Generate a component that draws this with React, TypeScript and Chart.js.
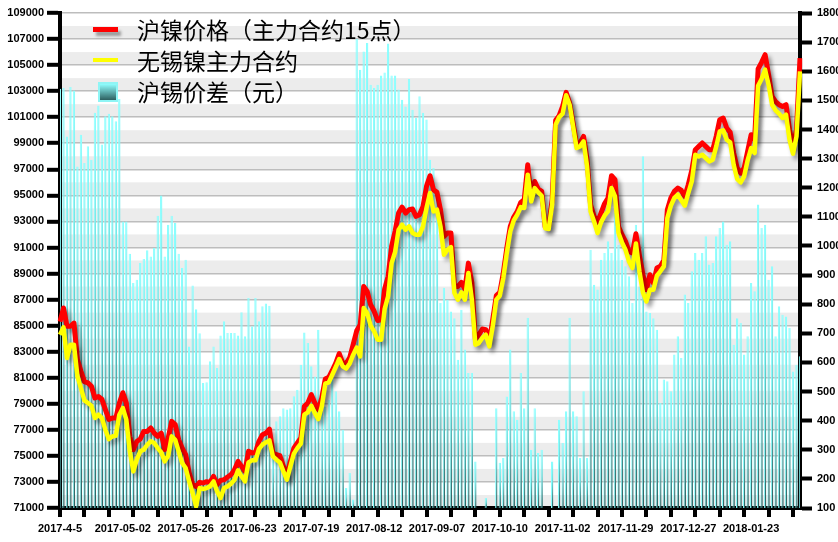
import React, { useEffect, useRef } from 'react';
import { Chart, registerables } from 'chart.js';

Chart.register(...registerables);

// ---- data ----
const tickLabels = [
  '2017-4-5', '2017-05-02', '2017-05-26', '2017-06-23', '2017-07-19', '2017-08-12',
  '2017-09-07', '2017-10-10', '2017-11-02', '2017-11-29', '2017-12-27', '2018-01-23',
];
const LABEL_EVERY = 18;
const MARK_EVERY = 7;

// 沪镍价格（主力合约15点）
const shfeNickel = [
  85300, 86350, 84950, 84950, 85200, 82400, 81500, 80700, 80600, 80350,
  79450, 79550, 79350, 78550, 77800, 77900, 77900, 79050, 79850, 79050,
  76500, 75480, 76100, 76300, 76880, 76880, 77140, 76750, 76500, 76750,
  75480, 76370, 77650, 77400, 76250, 75600, 75100, 73700, 72800, 72650,
  72970, 72920, 73020, 72970, 73430, 72790, 73120, 73170, 73380, 73560,
  73940, 74580, 74200, 73810, 75350, 75220, 75270, 76120, 76630, 76750,
  77060, 75220, 75090, 75010, 74200, 73430, 74580, 75600, 75990, 76370,
  78800, 79060, 79700, 79060, 78550, 79440, 80900, 81030, 81560, 82130,
  82850, 82130, 82100, 82550, 83560, 84600, 85070, 88010, 87630, 86600,
  86100, 85400, 85450, 87800, 88780, 91080, 92240, 93640, 94100, 93640,
  93900, 93950, 93390, 93520, 94150, 95690, 96510, 95430, 95230, 93900,
  91850, 92110, 92110, 88010, 88010, 88320, 87810, 89800, 88270, 83970,
  84300, 84740, 84690, 83790, 85500, 87300, 87550, 89040, 90960, 92620,
  93340, 93770, 94460, 94670, 97350, 94800, 96070, 95490, 95310, 92570,
  92620, 94670, 100760, 101120, 101830, 102910, 102090, 100550, 98890, 99020,
  99530, 97740, 94280, 93390, 92930, 93640, 94360, 94800, 96510, 96200,
  92620, 91980, 91470, 90700, 90570, 92050, 90400, 88910, 87760, 88910,
  88270, 89420, 89550, 90010, 93900, 94800, 95310, 95560, 95380, 94920,
  95820, 96920, 98500, 98760, 99020, 98760, 98500, 98500, 99530, 100810,
  100940, 100170, 99840, 98250, 97100, 96710, 97100, 98380, 99660, 99270,
  104700, 105210, 105800, 104260, 102600, 102190, 101960, 101830, 101960, 100040,
  98760, 100040, 105540,
];

// 无锡镍主力合约
const wuxiNickel = [
  84300, 84870, 82510, 83540, 83540, 81100, 80210, 79260, 79060, 78850,
  77910, 78160, 77910, 77010, 76290, 76500, 76550, 78160, 78670, 77780,
  75350, 73810, 74710, 75350, 75480, 75860, 76120, 75990, 75600, 75270,
  74580, 75010, 76500, 76240, 75350, 74450, 74070, 73040, 72150, 71130,
  72530, 72460, 72530, 72660, 73040, 72280, 71760, 72530, 72660, 72870,
  73170, 73890, 73430, 73040, 74500, 74660, 74660, 75530, 75860, 76040,
  76190, 74960, 74710, 74500, 73810, 73170, 74200, 75170, 75600, 75940,
  78160, 78340, 78850, 78290, 77830, 78800, 80540, 80640, 81230, 81820,
  82440, 81870, 81700, 82100, 82770, 83320, 82640, 86350, 85970, 84990,
  84560, 83920, 83920, 86270, 87250, 89800, 90650, 92360, 92750, 92360,
  92620, 92110, 91980, 91980, 92620, 94030, 95180, 93770, 93900, 92620,
  90450, 90830, 91030, 87500, 86990, 87550, 86990, 89040, 86990, 83540,
  83660, 84050, 84300, 83410, 85000, 86990, 87300, 88650, 90570, 92240,
  93080, 93520, 94100, 94030, 96590, 94540, 95560, 95230, 94970, 92470,
  92420, 94300, 100430, 101010, 101270, 102680, 101960, 100300, 98630, 98760,
  99150, 97230, 93770, 93000, 92110, 92930, 93440, 93770, 95560, 94920,
  92110, 91390, 90830, 89930, 89420, 91300, 89170, 87550, 86860, 87760,
  87760, 88830, 89170, 89550, 93260, 94210, 94800, 95050, 94620, 94210,
  95180, 96070, 98120, 97990, 98120, 97870, 97610, 97740, 98760, 99910,
  99990, 99270, 99070, 97350, 96250, 96000, 96460, 97690, 98630, 98250,
  103420, 103930, 104650, 103500, 101960, 101530, 101270, 100940, 101190, 99270,
  98200, 99530, 104520,
];

// 沪锡价差（元）
const spread = [
  1540, 1542, 1376, 1546, 1534, 1273, 1382, 1285, 1342, 1296,
  1457, 1482, 1348, 1445, 1454, 1445, 1428, 1505, 1084, 1084,
  973, 873, 884, 941, 955, 985, 964, 993, 1104, 1173,
  964, 1073, 1104, 1079, 973, 924, 953, 655, 864, 783,
  700, 529, 532, 604, 655, 581, 692, 741, 701, 701,
  701, 692, 772, 690, 821, 724, 821, 741, 793, 802,
  795, 323, 398, 415, 443, 438, 443, 484, 506, 592,
  703, 667, 587, 552, 712, 466, 449, 472, 569, 501,
  432, 369, 169, 220, 129, 1711, 1605, 1668, 1697, 1554,
  1542, 1554, 1585, 1596, 1695, 1585, 1585, 1537, 1502, 1479,
  1573, 1468, 1439, 1514, 1457, 1434, 1296, 1268, 1159, 804,
  856, 815, 775, 752, 609, 781, 644, 564, 564, 260,
  null, null, 134, null, null, 443, 255, 272, 483, 644,
  432, 403, 564, 443, 753, 300, 443, 289, 300, null,
  null, 260, null, 403, 323, 432, 753, 432, 415, 272,
  501, 272, 987, 867, 850, 953, 976, 1016, 976, 1113,
  1004, 953, 930, 896, 804, 1073, 861, 1308, 775, 770,
  752, 712, 461, 541, 535, 501, 627, 690, 615, 833,
  804, 913, 976, 953, 976, 1033, 936, 941, 1033, 1062,
  1084, 1004, 1016, 661, 752, 735, 627, 690, 873, 844,
  1142, 1062, 1073, 884, 930, 690, 793, 764, 758, 718,
  569, 592, 621,
];

const leftMin = 71000;
const leftMax = 109000;
const rightMin = 100;
const rightMax = 1800;

const categories = shfeNickel.map((_, i) =>
  i % LABEL_EVERY === 0 && tickLabels[i / LABEL_EVERY] ? tickLabels[i / LABEL_EVERY] : ''
);

const seriesNames = ['沪镍价格（主力合约15点）', '无锡镍主力合约', '沪锡价差（元）'];

const tickFont = { family: '"Liberation Sans", Arial, sans-serif', size: 11, weight: 'bold' as const };

const bandPlugin = {
  id: 'bands',
  beforeDraw(chart: any) {
    const { ctx, chartArea: a, scales } = chart;
    const y = scales.y;
    ctx.save();
    ctx.fillStyle = '#ececec';
    for (let v = leftMin; v < leftMax; v += 1000) {
      const idx = (v - leftMin) / 1000;
      if (idx % 2 === 0) {
        const top = y.getPixelForValue(v + 1000);
        const bot = y.getPixelForValue(v);
        ctx.fillRect(a.left, top, a.right - a.left, bot - top);
      }
    }
    ctx.restore();
  },
};

const shadowPlugin = {
  id: 'lineShadow',
  beforeDatasetDraw(chart: any, args: any) {
    if (args.meta.type !== 'line') return;
    const ctx = chart.ctx;
    ctx.save();
    ctx.shadowColor = 'rgba(0,0,0,0.38)';
    ctx.shadowBlur = 4;
    ctx.shadowOffsetX = 3;
    ctx.shadowOffsetY = 4;
  },
  afterDatasetDraw(chart: any, args: any) {
    if (args.meta.type !== 'line') return;
    chart.ctx.restore();
  },
};

function barFill(context: any) {
  const chart = context.chart;
  const v = context.raw;
  if (!chart.chartArea || v == null) return '#88ffff';
  const s = chart.scales.y1;
  const top = s.getPixelForValue(v);
  const bottom = s.getPixelForValue(rightMin);
  if (!isFinite(top) || bottom - top < 1) return '#88ffff';
  const g = chart.ctx.createLinearGradient(0, top, 0, bottom);
  g.addColorStop(0, '#90ffff');
  g.addColorStop(0.45, '#6fd8d8');
  g.addColorStop(1, '#2d5f5f');
  return g;
}

export default function App() {
  const ref = useRef<HTMLCanvasElement>(null);

  useEffect(() => {
    const chart = new Chart(ref.current as HTMLCanvasElement, {
      type: 'bar',
      data: {
        labels: categories,
        datasets: [
          {
            type: 'line',
            label: seriesNames[0],
            data: shfeNickel,
            yAxisID: 'y',
            borderColor: '#ff0000',
            backgroundColor: '#ff0000',
            borderWidth: 5,
            pointRadius: 0,
            tension: 0,
            borderJoinStyle: 'round',
            order: 2,
          } as any,
          {
            type: 'line',
            label: seriesNames[1],
            data: wuxiNickel,
            yAxisID: 'y',
            borderColor: '#ffff00',
            backgroundColor: '#ffff00',
            borderWidth: 4.5,
            pointRadius: 0,
            tension: 0,
            borderJoinStyle: 'round',
            order: 1,
          } as any,
          {
            type: 'bar',
            label: seriesNames[2],
            data: spread,
            yAxisID: 'y1',
            backgroundColor: barFill,
            borderColor: '#88ffff',
            borderWidth: { left: 1, right: 0, top: 0, bottom: 0 },
            borderSkipped: false,
            barPercentage: 0.68,
            categoryPercentage: 1,
            order: 3,
          } as any,
        ],
      },
      options: {
        responsive: false,
        animation: false,
        events: [],
        layout: { autoPadding: false, padding: { top: 13, left: 0, right: 0, bottom: 0 } } as any,
        plugins: {
          legend: { display: false },
          tooltip: { enabled: false },
          title: { display: false },
        },
        scales: {
          x: {
            type: 'category',
            offset: false,
            grid: {
              offset: false,
              drawOnChartArea: false,
              drawTicks: true,
              tickLength: 9,
              tickWidth: 4,
              lineWidth: 4,
              color: (c: any) => (c.index % MARK_EVERY === 0 ? '#000' : 'rgba(0,0,0,0)'),
              tickColor: (c: any) => (c.index % MARK_EVERY === 0 ? '#000' : 'rgba(0,0,0,0)'),
            } as any,
            border: { display: true, color: '#000', width: 4 },
            ticks: {
              autoSkip: false,
              maxRotation: 0,
              minRotation: 0,
              padding: 5,
              color: '#000',
              font: tickFont,
              callback: (_v: any, i: number) => categories[i],
            },
            afterFit: (s: any) => { s.height = 34; },
          },
          y: {
            type: 'linear',
            position: 'left',
            min: leftMin,
            max: leftMax,
            grid: {
              drawOnChartArea: true,
              color: '#bdbdbd',
              lineWidth: 1.6,
              drawTicks: true,
              tickLength: 13,
              tickWidth: 4,
              tickColor: (c: any) =>
                c.tick && (c.tick.value - leftMin) % 2000 === 0 ? '#000' : 'rgba(0,0,0,0)',
            } as any,
            border: { display: true, color: '#000', width: 4 },
            ticks: {
              stepSize: 1000,
              padding: 3,
              color: '#000',
              font: tickFont,
              callback: (v: any) => ((Number(v) - leftMin) % 2000 === 0 ? String(v) : ''),
            },
            afterFit: (s: any) => { s.width = 60; },
          },
          y1: {
            type: 'linear',
            position: 'right',
            min: rightMin,
            max: rightMax,
            grid: {
              drawOnChartArea: false,
              drawTicks: true,
              tickLength: 12,
              tickWidth: 4,
              tickColor: '#000',
            } as any,
            border: { display: true, color: '#000', width: 4 },
            ticks: {
              stepSize: 100,
              padding: 5,
              color: '#000',
              font: tickFont,
              callback: (v: any) => String(v),
            },
            afterFit: (s: any) => { s.width = 38; },
          },
        },
      } as any,
      plugins: [bandPlugin, shadowPlugin],
    });
    return () => chart.destroy();
  }, []);

  const textStyle: React.CSSProperties = {
    position: 'absolute',
    left: 137,
    fontFamily: '"Noto Sans CJK SC", "Noto Sans", sans-serif',
    fontSize: 23,
    lineHeight: '23px',
    color: '#000',
    whiteSpace: 'nowrap',
  };

  return (
    <div style={{ position: 'absolute', left: 0, top: 0, width: 838, height: 542, background: '#fff', overflow: 'hidden' }}>
      <canvas ref={ref} width={838} height={542} style={{ display: 'block' }} />
      <div style={{ position: 'absolute', left: 93, top: 27, width: 25, height: 5, background: '#ff0000', boxShadow: '3px 4px 3px rgba(0,0,0,0.35)' }} />
      <div style={{ ...textStyle, top: 18 }}>{seriesNames[0]}</div>
      <div style={{ position: 'absolute', left: 93, top: 58, width: 25, height: 4, background: '#ffff00' }} />
      <div style={{ ...textStyle, top: 49 }}>{seriesNames[1]}</div>
      <div style={{ position: 'absolute', left: 98, top: 82, width: 16, height: 16, border: '2px solid #8ff5f5', background: 'linear-gradient(#8fffff, #2d5f5f)' }} />
      <div style={{ ...textStyle, top: 80 }}>{seriesNames[2]}</div>
    </div>
  );
}
